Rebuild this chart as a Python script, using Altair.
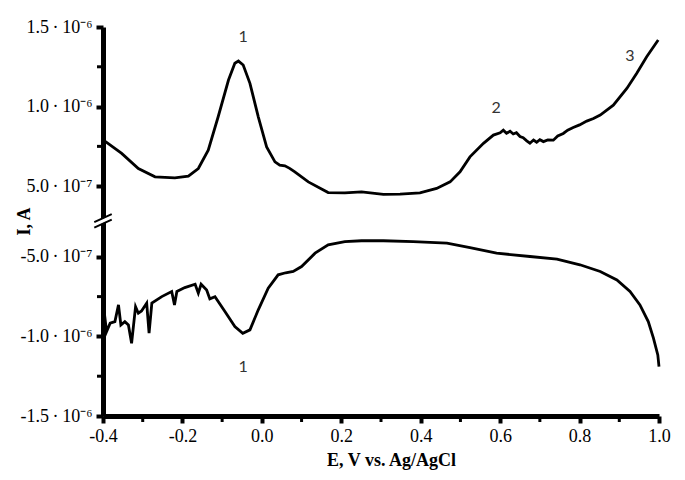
import altair as alt
import pandas as pd

# ---- anodic (forward) branch: potential (V) and current (µA) ----
upper_E = [-0.400, -0.391, -0.353, -0.311, -0.269, -0.219, -0.185, -0.160, -0.135, -0.110,
           -0.084, -0.068, -0.059, -0.047, -0.030, -0.009, 0.012, 0.033, 0.045, 0.058,
           0.070, 0.083, 0.117, 0.167, 0.209, 0.251, 0.306, 0.348, 0.398, 0.440,
           0.474, 0.499, 0.524, 0.558, 0.583, 0.600, 0.608, 0.616, 0.625, 0.633,
           0.641, 0.650, 0.658, 0.667, 0.675, 0.684, 0.692, 0.700, 0.709, 0.720,
           0.734, 0.745, 0.759, 0.770, 0.784, 0.800, 0.818, 0.835, 0.852, 0.885,
           0.919, 0.944, 0.969, 0.998]
upper_I = [0.790, 0.775, 0.706, 0.611, 0.559, 0.552, 0.563, 0.611, 0.726, 0.936,
           1.167, 1.272, 1.286, 1.261, 1.146, 0.936, 0.747, 0.653, 0.632, 0.628,
           0.612, 0.590, 0.527, 0.460, 0.458, 0.464, 0.448, 0.450, 0.458, 0.486,
           0.527, 0.590, 0.684, 0.769, 0.821, 0.835, 0.852, 0.832, 0.845, 0.828,
           0.836, 0.812, 0.805, 0.785, 0.770, 0.790, 0.776, 0.792, 0.780, 0.790,
           0.789, 0.815, 0.831, 0.852, 0.869, 0.885, 0.909, 0.925, 0.947, 1.009,
           1.114, 1.209, 1.313, 1.418]

# ---- cathodic (reverse) branch ----
lower_E = [-0.400, -0.397, -0.391, -0.382, -0.370, -0.361, -0.355, -0.345, -0.336, -0.328,
           -0.318, -0.311, -0.303, -0.290, -0.284, -0.277, -0.252, -0.227, -0.220, -0.214,
           -0.194, -0.168, -0.160, -0.153, -0.139, -0.131, -0.118, -0.093, -0.068, -0.048,
           -0.030, -0.009, 0.016, 0.041, 0.060, 0.079, 0.100, 0.134, 0.167, 0.209,
           0.251, 0.306, 0.381, 0.466, 0.524, 0.591, 0.675, 0.743, 0.801, 0.852,
           0.894, 0.927, 0.952, 0.973, 0.986, 0.997, 1.000]
lower_I = [-0.800, -0.844, -0.970, -0.917, -0.907, -0.802, -0.928, -0.907, -0.928, -1.043,
           -0.813, -0.854, -0.840, -0.791, -0.980, -0.791, -0.750, -0.718, -0.802, -0.718,
           -0.693, -0.672, -0.728, -0.672, -0.708, -0.764, -0.750, -0.844, -0.938, -0.980,
           -0.959, -0.833, -0.697, -0.613, -0.600, -0.592, -0.561, -0.477, -0.425, -0.404,
           -0.399, -0.399, -0.404, -0.414, -0.442, -0.477, -0.498, -0.515, -0.550, -0.592,
           -0.645, -0.718, -0.802, -0.907, -1.011, -1.116, -1.190]

# ---- axis ticks / labels ----
y_major_I = [1.5, 1.0, 0.5, -0.5, -1.0, -1.5]
y_major_labels = ["1.5\u2009·\u200910⁻⁶", "1.0\u2009·\u200910⁻⁶", "5.0\u2009·\u200910⁻⁷",
                  "-5.0\u2009·\u200910⁻⁷", "-1.0\u2009·\u200910⁻⁶", "-1.5\u2009·\u200910⁻⁶"]
y_minor_I = [1.25, 0.75, -0.75, -1.25]
x_major = [-0.4, -0.2, 0.0, 0.2, 0.4, 0.6, 0.8, 1.0]
x_major_labels = ["-0.4", "-0.2", "0.0", "0.2", "0.4", "0.6", "0.8", "1.0"]
x_minor = [-0.3, -0.1, 0.1, 0.3, 0.5, 0.7, 0.9]

# ---- peak annotations ----
ann_text = ["1", "2", "3", "1"]
ann_E = [-0.047, 0.590, 0.927, -0.047]
ann_I = [1.439, 0.989, 1.318, -1.192]

# axis break: positive currents are shifted down by this amount (µA)
GAP = 0.556
BREAK_I = -0.274  # display position of the break symbol


def disp(v):
    return round(v - GAP, 4) if v > 0 else v


rows = []
for e, i in zip(upper_E, upper_I):
    rows.append({"E": e, "d": disp(i), "branch": "anodic"})
for e, i in zip(lower_E, lower_I):
    rows.append({"E": e, "d": disp(i), "branch": "cathodic"})
curves = pd.DataFrame(rows)

ann = pd.DataFrame({"E": ann_E, "d": [disp(v) for v in ann_I], "t": ann_text})

x_lo, x_hi = x_major[0], x_major[-1]
y_lo = y_major_I[-1]
y_hi = disp(y_major_I[0])

xminor_df = pd.DataFrame({"E": x_minor, "d": [y_lo] * len(x_minor)})
yminor_df = pd.DataFrame({"E": [x_lo] * len(y_minor_I), "d": [disp(v) for v in y_minor_I]})

# break symbol (two slanted strokes with white slit across the axis)
bdx, bdy, sep = 0.022, 0.025, 0.017
brk = pd.DataFrame([
    {"E": x_lo - bdx, "E2": x_lo + bdx, "d": BREAK_I - bdy, "d2": BREAK_I + bdy, "k": "w"},
    {"E": x_lo - bdx, "E2": x_lo + bdx, "d": BREAK_I - bdy - sep, "d2": BREAK_I + bdy - sep, "k": "b"},
    {"E": x_lo - bdx, "E2": x_lo + bdx, "d": BREAK_I - bdy + sep, "d2": BREAK_I + bdy + sep, "k": "b"},
])

y_major_d = [disp(v) for v in y_major_I]


def chain(vals, labs):
    parts = [f"abs(datum.value - ({v})) < 0.001 ? '{l}'" for v, l in zip(vals, labs)]
    return " : ".join(parts) + " : ''"


FONT = "Liberation Serif"
XTITLE = "E, V vs. Ag/AgCl"
YTITLE = "I, A"

axis_style = dict(
    titleFont=FONT, titleFontSize=18, titleFontWeight="bold", titleColor="black",
    labelFont=FONT, labelFontSize=18, labelColor="black", labelPadding=4,
    domainColor="black", domainWidth=5, tickColor="black", tickSize=7, tickWidth=4,
    grid=False, labelFlush=False, labelOverlap=False,
)

xaxis = alt.Axis(
    values=x_major, labelExpr=chain(x_major, x_major_labels),
    title=XTITLE, titleX=288, titleY=35, titleBaseline="top", titleAnchor="middle",
    **axis_style,
)

yaxis = alt.Axis(
    values=y_major_d, labelExpr=chain(y_major_d, y_major_labels),
    title=YTITLE, titleAngle=270, titleX=-79, titleY=194,
    titleAlign="center", titleBaseline="middle",
    **axis_style,
)

xs = alt.Scale(domain=[x_lo, x_hi], nice=False, zero=False)
ys = alt.Scale(domain=[y_lo, y_hi], nice=False, zero=False)


def X(f="E:Q", **kw):
    return alt.X(f, scale=xs, title=XTITLE, **kw)


def Y(f="d:Q", **kw):
    return alt.Y(f, scale=ys, title=YTITLE, **kw)


lines = alt.Chart(curves).mark_line(color="black", strokeWidth=2.8).encode(
    x=X(axis=xaxis), y=Y(axis=yaxis), detail="branch:N",
)

labels = alt.Chart(ann).mark_text(font="Lato", fontSize=16, color="#333333").encode(
    x=X(), y=Y(), text="t:N",
)

xminor = alt.Chart(xminor_df).mark_tick(
    color="black", orient="vertical", size=6, thickness=3, yOffset=3, opacity=1
).encode(x=X(), y=Y())

yminor = alt.Chart(yminor_df).mark_tick(
    color="black", orient="horizontal", size=6, thickness=3, xOffset=-3, opacity=1
).encode(x=X(), y=Y())

brk_white = alt.Chart(brk[brk.k == "w"]).mark_rule(color="white", strokeWidth=4).encode(
    x=X(), x2="E2:Q", y=Y(), y2="d2:Q",
)
brk_black = alt.Chart(brk[brk.k == "b"]).mark_rule(color="black", strokeWidth=2).encode(
    x=X(), x2="E2:Q", y=Y(), y2="d2:Q",
)

chart = alt.layer(lines, labels, xminor, yminor, brk_white, brk_black).properties(
    width=556, height=389,
    background="white",
    autosize=alt.AutoSizeParams(type="none"),
    padding={"left": 95, "top": 19, "right": 14, "bottom": 66},
).configure_view(strokeWidth=0).configure_axis(**axis_style)

chart.save("out.html", embed_options={"renderer": "svg", "actions": False})
